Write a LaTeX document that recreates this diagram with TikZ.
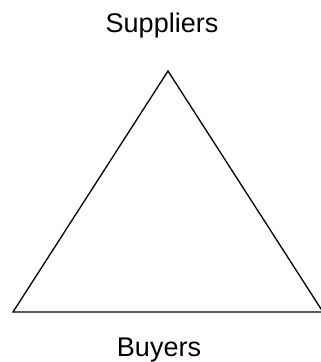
\documentclass[tikz,border=0pt]{standalone}
\usepackage{fontspec}
\setmainfont{Liberation Sans}
\begin{document}
\begin{tikzpicture}[
    x=1pt, y=-1pt,
    party label/.style={font=\fontsize{27}{30}\selectfont, inner sep=0pt, anchor=base},
    side edge/.style={line width=1.3pt, black, line join=miter}
]
\useasboundingbox (0,0) rectangle (321,362);

% Etiquetas de las partes
\node[party label] (suppliers) at (162, 32) {Suppliers};
\node[party label] (buyers) at (159, 356) {Buyers};

% Vertices del triangulo
\coordinate (top) at (168, 71);
\coordinate (left) at (13, 312);
\coordinate (right) at (323, 312);

\draw[side edge] (top) -- (left) -- (right) -- cycle;

\end{tikzpicture}
\end{document}
